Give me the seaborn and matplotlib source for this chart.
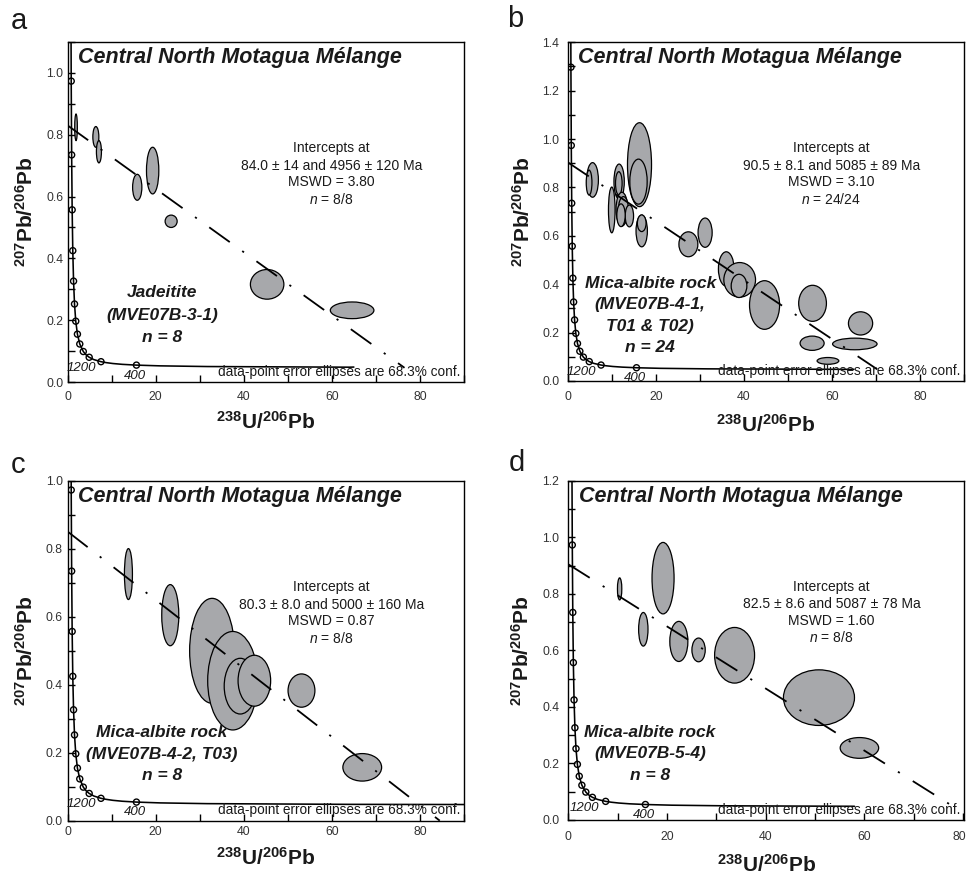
import numpy as np
import matplotlib
matplotlib.use("Agg")
import matplotlib.pyplot as plt
import matplotlib.transforms as mtransforms
from matplotlib.patches import Ellipse
from matplotlib.ticker import MultipleLocator
import seaborn as sns

# ---------------- data ----------------
# Concordia curve (238U/206Pb, 207Pb/206Pb) and its 400 Ma age markers
conc_x = [0.651, 0.7226, 0.8062, 0.9045, 1.021, 1.163, 1.337, 1.556, 1.838, 2.216,
          2.749, 3.550, 4.122, 4.888, 5.959, 7.568, 8.718, 10.25, 12.40, 15.62,
          20.99, 31.73, 63.97, 90.0]
conc_y = [1.735, 1.297, 0.9735, 0.7347, 0.5571, 0.4250, 0.3264, 0.2524, 0.1968, 0.1548,
          0.1230, 0.0987, 0.0888, 0.0801, 0.0725, 0.0658, 0.0628, 0.0599, 0.0572, 0.0547,
          0.0523, 0.0501, 0.0480, 0.0475]
mark_ages = [5600, 5200, 4800, 4400, 4000, 3600, 3200, 2800, 2400, 2000, 1600, 1200, 800, 400]
mark_x = [0.7226, 0.8062, 0.9045, 1.021, 1.163, 1.337, 1.556, 1.838, 2.216, 2.749,
          3.550, 4.888, 7.568, 15.62]
mark_y = [1.297, 0.9735, 0.7347, 0.5571, 0.4250, 0.3264, 0.2524, 0.1968, 0.1548, 0.1230,
          0.0987, 0.0801, 0.0658, 0.0547]
age_labels = ["1200", "400"]

# Panel a  -- Jadeitite
a_ex = [1.9, 6.4, 7.1, 15.8, 19.3, 23.5, 45.3, 64.6]
a_ey = [0.824, 0.793, 0.745, 0.630, 0.684, 0.520, 0.316, 0.232]
a_ew = [0.6, 1.36, 1.14, 2.1, 2.8, 2.73, 7.6, 9.9]
a_eh = [0.086, 0.067, 0.072, 0.084, 0.151, 0.040, 0.096, 0.054]
a_disc_x = [0.0, 76.5]
a_disc_y = [0.83, 0.046]

# Panel b  -- Mica-albite rock (MVE07B-4-1)
b_ex = [5.64, 4.85, 11.67, 11.6, 10.0, 12.3, 12.65, 14.0, 16.3, 16.07, 16.8, 16.8,
        27.4, 31.2, 36.0, 39.05, 38.9, 44.7, 55.6, 66.5, 55.5, 65.2, 59.1, 12.1]
b_ey = [0.831, 0.82, 0.824, 0.817, 0.707, 0.71, 0.707, 0.682, 0.894, 0.824, 0.62, 0.652,
        0.565, 0.613, 0.463, 0.418, 0.393, 0.314, 0.321, 0.238, 0.156, 0.153, 0.083, 0.685]
b_ew = [2.65, 1.3, 2.35, 1.5, 1.5, 2.65, 2.3, 1.9, 5.46, 3.94, 2.58, 1.97,
        4.3, 3.2, 3.56, 7.2, 3.56, 6.83, 6.3, 5.5, 5.46, 10.1, 4.93, 1.9]
b_eh = [0.143, 0.103, 0.145, 0.096, 0.189, 0.14, 0.11, 0.09, 0.347, 0.186, 0.131, 0.069,
        0.103, 0.121, 0.142, 0.143, 0.096, 0.201, 0.149, 0.096, 0.059, 0.048, 0.028, 0.094]
b_disc_x = [0.0, 70.3]
b_disc_y = [0.904, 0.048]

# Panel c  -- Mica-albite rock (MVE07B-4-2)
c_ex = [13.8, 23.3, 32.8, 37.5, 39.2, 42.4, 53.1, 66.9]
c_ey = [0.726, 0.605, 0.50, 0.412, 0.396, 0.412, 0.383, 0.157]
c_ew = [1.82, 3.87, 10.2, 11.4, 7.3, 7.4, 6.1, 8.8]
c_eh = [0.150, 0.18, 0.309, 0.29, 0.164, 0.15, 0.098, 0.081]
c_disc_x = [0.0, 84.5]
c_disc_y = [0.851, 0.0]

# Panel d  -- Mica-albite rock (MVE07B-5-4)
d_ex = [10.4, 19.2, 15.2, 22.4, 26.4, 33.7, 50.8, 59.0]
d_ey = [0.818, 0.856, 0.675, 0.632, 0.602, 0.583, 0.433, 0.255]
d_ew = [0.88, 4.47, 1.9, 3.66, 2.7, 8.1, 14.4, 7.8]
d_eh = [0.078, 0.253, 0.119, 0.142, 0.084, 0.197, 0.197, 0.0735]
d_disc_x = [0.0, 78.7]
d_disc_y = [0.905, 0.040]

panel_letters = ["a", "b", "c", "d"]
title_text = "Central North Motagua Mélange"
note_text = "data-point error ellipses are 68.3% conf."
intercepts = [
    ["Intercepts at", "84.0 ± 14 and 4956 ± 120 Ma", "MSWD = 3.80", r"$n$ = 8/8"],
    ["Intercepts at", "90.5 ± 8.1 and 5085 ± 89 Ma", "MSWD = 3.10", r"$n$ = 24/24"],
    ["Intercepts at", "80.3 ± 8.0 and 5000 ± 160 Ma", "MSWD = 0.87", r"$n$ = 8/8"],
    ["Intercepts at", "82.5 ± 8.6 and 5087 ± 78 Ma", "MSWD = 1.60", r"$n$ = 8/8"],
]
samples = [
    ["Jadeitite", "(MVE07B-3-1)", "n = 8"],
    ["Mica-albite rock", "(MVE07B-4-1,", "T01 & T02)", "n = 24"],
    ["Mica-albite rock", "(MVE07B-4-2, T03)", "n = 8"],
    ["Mica-albite rock", "(MVE07B-5-4)", "n = 8"],
]
xlims = [90, 90, 90, 80.2]
ylims = [1.1, 1.4, 1.0, 1.2]
conc_end = [65.0, 65.0, 90.0, 58.0]

# ---------------- style ----------------
sns.set_theme(style="white")
plt.rcParams["font.family"] = ["Liberation Sans", "DejaVu Sans"]
plt.rcParams["mathtext.fontset"] = "custom"
plt.rcParams["mathtext.rm"] = "Liberation Sans"
plt.rcParams["mathtext.it"] = "Liberation Sans:italic"
plt.rcParams["mathtext.bf"] = "Liberation Sans:bold"

fig = plt.figure(figsize=(9.68, 8.75), dpi=100)
positions = [
    [0.0699, 0.5634, 0.4094, 0.3886],
    [0.5865, 0.5646, 0.4094, 0.3871],
    [0.0699, 0.0621, 0.4094, 0.3882],
    [0.5871, 0.0629, 0.4088, 0.3874],
]
letter_pos = [(0.020, 0.976), (0.532, 0.978), (0.019, 0.469), (0.534, 0.471)]
xtick_pad = [6.5, 7.0, 4.0, 8.0]
ytick_pad = [3.0, 6.0, 3.5, 6.5]
ylab_x = [-0.105, -0.113, -0.105, -0.117]
xlab_y = [-0.118, -0.13, -0.109, -0.133]
sample_x = [0.238, 0.208, 0.238, 0.206]
sample_y = [[0.262, 0.197, 0.132], [0.289, 0.227, 0.162, 0.100],
            [0.259, 0.196, 0.132], [0.258, 0.195, 0.130]]
inter_y = [0.687, 0.636, 0.588, 0.537]

ells = [(a_ex, a_ey, a_ew, a_eh), (b_ex, b_ey, b_ew, b_eh),
        (c_ex, c_ey, c_ew, c_eh), (d_ex, d_ey, d_ew, d_eh)]
discs = [(a_disc_x, a_disc_y), (b_disc_x, b_disc_y),
         (c_disc_x, c_disc_y), (d_disc_x, d_disc_y)]

ell_face = "#a7a8ab"
txt_col = "#1a1a1a"

for i in range(4):
    ax = fig.add_axes(positions[i])
    ax.set_xlim(0, xlims[i])
    ax.set_ylim(0, ylims[i])

    # ellipses
    ex, ey, ew, eh = ells[i]
    for x, y, w, h in zip(ex, ey, ew, eh):
        ax.add_patch(Ellipse((x, y), w, h, facecolor=ell_face, edgecolor="black",
                             linewidth=0.9, zorder=2))

    # concordia
    cx = [x for x in conc_x if x <= conc_end[i]]
    cy = conc_y[:len(cx)]
    if conc_end[i] < 90.0:
        cx = cx + [conc_end[i]]
        cy = cy + [0.0484]
    sns.lineplot(x=cx, y=cy, sort=False, color="black", linewidth=1.15, ax=ax,
                 zorder=3, estimator=None)
    mx = [x for x, y in zip(mark_x, mark_y) if y <= ylims[i]]
    my = [y for y in mark_y if y <= ylims[i]]
    sns.scatterplot(x=mx, y=my, s=19, facecolor="none", edgecolor="black",
                    linewidth=1.0, ax=ax, zorder=4)
    i1200 = mark_ages.index(1200)
    i400 = mark_ages.index(400)
    ax.annotate(age_labels[0], (mark_x[i1200], mark_y[i1200]), xytext=(-5.5, -7.5),
                textcoords="offset points", ha="center", va="center",
                fontsize=9.5, style="italic", color=txt_col, zorder=5)
    ax.annotate(age_labels[1], (mark_x[i400], mark_y[i400]), xytext=(-1, -7.5),
                textcoords="offset points", ha="center", va="center",
                fontsize=9.5, style="italic", color=txt_col, zorder=5)

    # discordia
    dx, dy = discs[i]
    ax.plot(dx, dy, color="black", linewidth=1.3, dashes=(14, 8.5, 1.2, 8.5), zorder=4)

    # texts
    ax.text(0.026, 0.955, title_text, transform=ax.transAxes, fontsize=15.5,
            fontweight="bold", style="italic", ha="left", va="center", color=txt_col)
    ax.text(0.992, 0.030, note_text, transform=ax.transAxes, fontsize=9.8,
            ha="right", va="center", color=txt_col, zorder=6)
    for line, yy in zip(intercepts[i], inter_y):
        ax.text(0.665, yy, line, transform=ax.transAxes, fontsize=10,
                ha="center", va="center", color=txt_col)
    for line, yy in zip(samples[i], sample_y[i]):
        ax.text(sample_x[i], yy, line, transform=ax.transAxes, fontsize=12.5,
                fontweight="bold", style="italic", ha="center", va="center",
                color=txt_col)

    # axes styling
    for sp in ax.spines.values():
        sp.set_color("black")
        sp.set_linewidth(1.0)
    ax.xaxis.set_major_locator(MultipleLocator(20))
    ax.xaxis.set_minor_locator(MultipleLocator(10))
    ax.yaxis.set_major_locator(MultipleLocator(0.2))
    ax.yaxis.set_minor_locator(MultipleLocator(0.1))
    ax.set_yticks([t for t in np.arange(0, ylims[i] + 0.001, 0.2)])
    ax.set_yticklabels([f"{t:.1f}" for t in np.arange(0, ylims[i] + 0.001, 0.2)])
    ax.tick_params(axis="both", which="both", direction="in", length=5, width=1.0,
                   color="black", bottom=True, left=True, top=False, right=False,
                   labelsize=8.8, labelcolor="#333333")
    ax.tick_params(axis="x", which="both", pad=xtick_pad[i])
    ax.tick_params(axis="y", which="both", pad=ytick_pad[i])
    ax.set_xlim(0, xlims[i])
    ax.set_ylim(0, ylims[i])

    ax.set_ylabel(r"$^{\mathbf{207}}\mathbf{Pb/}^{\mathbf{206}}\mathbf{Pb}$",
                  fontsize=15, color=txt_col)
    ax.yaxis.set_label_coords(ylab_x[i], 0.5)
    ax.set_xlabel(r"$^{\mathbf{238}}\mathbf{U/}^{\mathbf{206}}\mathbf{Pb}$",
                  fontsize=15, color=txt_col)
    ax.xaxis.set_label_coords(0.5, xlab_y[i])
    ax.xaxis.label.set_va("center")
    ax.yaxis.label.set_va("center")

    if i == 3:
        # keep the last x tick label ("80") inside the figure edge
        fig.canvas.draw()
        lbls = ax.get_xticklabels()
        shift = mtransforms.ScaledTranslation(-3 / 72, 0, fig.dpi_scale_trans)
        for lb in lbls:
            if lb.get_text() in ("80",):
                lb.set_transform(lb.get_transform() + shift)

    fig.text(letter_pos[i][0], letter_pos[i][1], panel_letters[i], fontsize=21,
             ha="center", va="center", color=txt_col)

fig.savefig("out.png", dpi=100)
